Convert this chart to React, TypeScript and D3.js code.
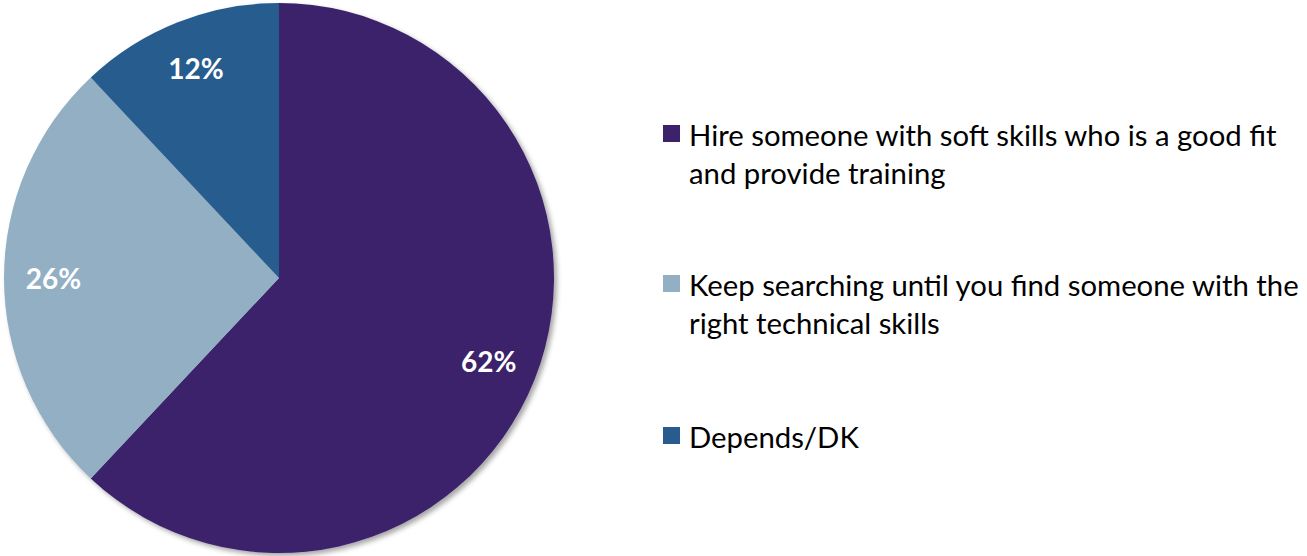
import * as d3 from 'd3';

const categories = [
  'Hire someone with soft skills who is a good fit and provide training',
  'Keep searching until you find someone with the right technical skills',
  'Depends/DK',
];
const legendLines = [
  ['Hire someone with soft skills who is a good fit', 'and provide training'],
  ['Keep searching until you find someone with the', 'right technical skills'],
  ['Depends/DK'],
];
const values = [62, 26, 12];
const colors = ['#3b226b', '#92afc4', '#285c8e'];

interface Slice {
  label: string;
  value: number;
  color: string;
}

const data: Slice[] = categories.map((c, i) => ({ label: c, value: values[i], color: colors[i] }));

const width = 1307;
const height = 556;
const cx = 279;
const cy = 278;
const radius = 275;

const App = (): JSX.Element => {
  const pie = d3
    .pie<Slice>()
    .value((d) => d.value)
    .sort(null);
  const arcs = pie(data);

  const arc = d3.arc<d3.PieArcDatum<Slice>>().innerRadius(0).outerRadius(radius);
  const labelArc = d3
    .arc<d3.PieArcDatum<Slice>>()
    .innerRadius(radius * 0.82)
    .outerRadius(radius * 0.82);

  // legend rows: y of first line centre
  const legendY = d3.scaleOrdinal<number, number>().domain([0, 1, 2]).range([134, 284, 436]);
  const lineHeight = 38;

  return (
    <svg width={width} height={height} style={{ display: 'block', position: 'absolute', left: 0, top: 0 }}>
      <defs>
        <filter id="shadow" x="-10%" y="-10%" width="120%" height="120%">
          <feDropShadow dx="3" dy="3" stdDeviation="2.5" floodColor="#000" floodOpacity="0.35" />
        </filter>
      </defs>
      <g transform={`translate(${cx},${cy})`}>
        <g filter="url(#shadow)">
          {arcs.map((a, i) => (
            <path key={i} d={arc(a) ?? ''} fill={a.data.color} />
          ))}
        </g>
        {arcs.map((a, i) => {
          const [x, y] = labelArc.centroid(a);
          return (
            <text
              key={i}
              x={x}
              y={y}
              textAnchor="middle"
              dominantBaseline="central"
              fill="#fff"
              fontFamily="Lato, 'Open Sans', sans-serif"
              fontWeight="bold"
              fontSize={28}
            >
              {a.data.value}%
            </text>
          );
        })}
      </g>
      <g fontFamily="Lato, 'Open Sans', sans-serif" fontSize={29.3} fill="#000">
        {legendLines.map((lines, i) => (
          <g key={i} transform={`translate(663,${legendY(i)})`}>
            <rect x={0} y={-9} width={17} height={17} fill={colors[i]} />
            {lines.map((l, j) => (
              <text key={j} x={26} y={j * lineHeight} dominantBaseline="central">
                {l}
              </text>
            ))}
          </g>
        ))}
      </g>
    </svg>
  );
};

export default App;
